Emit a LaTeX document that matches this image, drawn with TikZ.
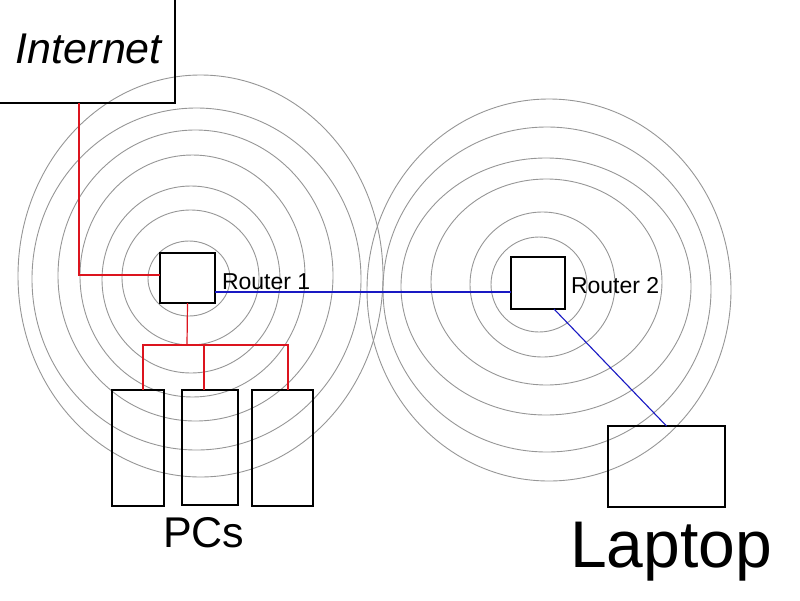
\documentclass[tikz,border=0pt]{standalone}
\usepackage{fontspec}
\setmainfont{Liberation Sans}
\definecolor{wred}{RGB}{220,20,30}
\definecolor{wblue}{RGB}{25,25,195}
\definecolor{ring}{RGB}{150,150,150}
\begin{document}
\begin{tikzpicture}[x=1pt,y=-1pt,
  ringline/.style={draw=ring,line width=0.9pt},
  box/.style={draw=black,line width=1.3pt,minimum width=#1,inner sep=0pt,outer sep=0pt},
  redw/.style={draw=wred,line width=1.2pt},
  bluew/.style={draw=wblue,line width=1.1pt},
  lbl/.style={inner sep=0pt,outer sep=0pt,anchor=base west}]
\useasboundingbox (0,0) rectangle (800,600);
\clip (0,0) rectangle (800,600);
% rings of router 1
\foreach \cx/\cy/\rx/\ry in {189/278.5/41/37.5, 190.5/277.5/68.5/67.5, 191/279.5/89/93.5,
  192.5/276/112.5/121, 195.5/275.5/137.5/145.5, 196.5/279/164.5/171, 200.5/276/182.5/201}
  \draw[ringline] (\cx,\cy) ellipse [x radius=\rx, y radius=\ry];
% rings of router 2
\foreach \cx/\cy/\rx/\ry in {539/284.5/48/47.5, 542.5/284.5/72.5/72.5, 546.5/282/115.5/103,
  546/286.5/145/128.5, 547/289.5/164/162.5, 549/290/182/191}
  \draw[ringline] (\cx,\cy) ellipse [x radius=\rx, y radius=\ry];
% boxes
\node[box=195pt,minimum height=123pt] (inet) at (77.5,41.5) {};
\node[lbl,font=\itshape\fontsize{43}{43}\selectfont] (inettext) at (16,63) {Internet};
\node[box=55pt,minimum height=50pt] (r1) at (187.5,278) {};
\node[box=54pt,minimum height=52pt] (r2) at (538,283) {};
\node[box=52pt,minimum height=116pt] (pc1) at (138,448) {};
\node[box=56pt,minimum height=115pt] (pc2) at (210,447.5) {};
\node[box=61pt,minimum height=116pt] (pc3) at (282.5,448) {};
\node[box=117pt,minimum height=81pt] (lap) at (666.5,466.5) {};
% labels
\node[lbl,font=\fontsize{23}{23}\selectfont] (r1text) at (222,289) {Router 1};
\node[lbl,font=\fontsize{23}{23}\selectfont] (r2text) at (571,293) {Router 2};
\node[lbl,font=\fontsize{43}{43}\selectfont] (pctext) at (163,547) {PCs};
\node[lbl,font=\fontsize{66}{66}\selectfont] (laptext) at (570,567) {Laptop};
% red wires
\coordinate (j1) at (79,275);
\draw[redw] (inet.south -| j1) -- (j1) -- (j1 -| r1.west);
\coordinate (bus) at (187,345);
\draw[redw] (r1.south) -- (bus);
\draw[redw] (pc1.north west) ++(31,0) |- (bus);
\draw[redw] (pc2.north west) ++(22,0) |- (bus);
\draw[redw] (pc3.north west) ++(36,0) |- (bus);
% blue wires
\draw[bluew] (r1.south east) ++(0,-11) coordinate (b1) -- (b1 -| r2.west);
\draw[bluew] (r2.south) ++(16,0) -- (lap.north);
\end{tikzpicture}
\end{document}
